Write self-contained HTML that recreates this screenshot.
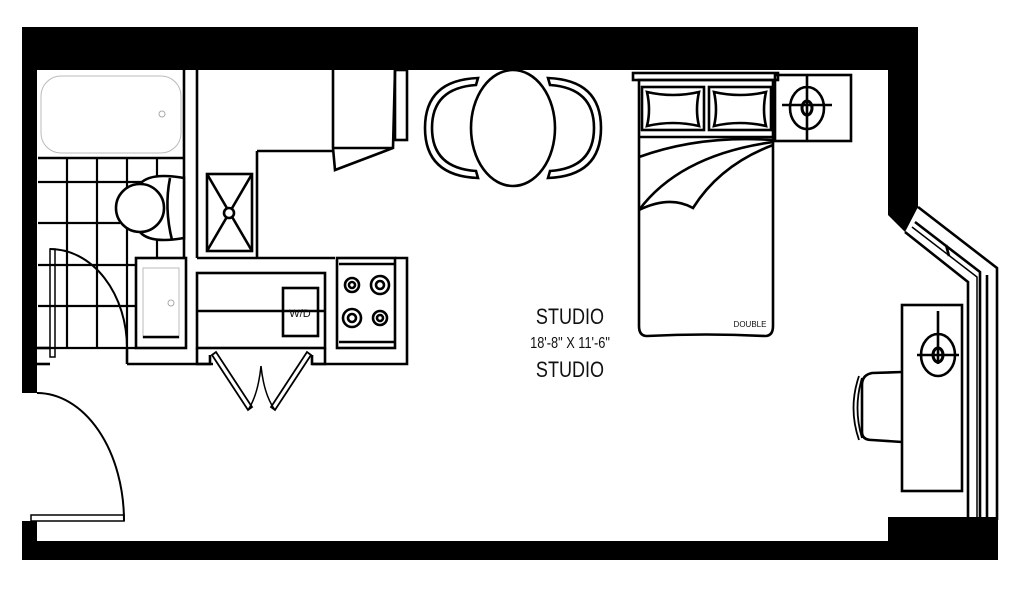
<!DOCTYPE html>
<html><head><meta charset="utf-8"><style>
html,body{margin:0;padding:0;background:#fff;width:1024px;height:593px;overflow:hidden}
svg{display:block}
text{font-family:"Liberation Sans",sans-serif;fill:#111}
</style></head><body>
<svg width="1024" height="593" viewBox="0 0 1024 593" xmlns="http://www.w3.org/2000/svg">
<g fill="#000">
<rect x="22" y="27" width="896" height="43"/>
<rect x="22" y="27" width="15" height="366"/>
<rect x="22" y="521" width="15" height="39"/>
<rect x="22" y="541" width="976" height="19"/>
<rect x="888" y="517" width="110" height="43"/>
<polygon points="888,27 918,27 918,207 905,232 888,215"/>
</g>
<g fill="none" stroke="#000" stroke-width="2.6">
<!-- window -->
<polyline points="918,207 997,268 997,520"/>
<polyline points="905,232 968,282 968,520"/>
<polyline points="915,222 980,272 980,520"/>
<polyline points="912,227 977,277 977,520" stroke-width="1.5"/>
<line x1="987" y1="275" x2="987" y2="520"/>
<line x1="946" y1="245" x2="949" y2="256"/>
<!-- bathtub -->
<rect x="41" y="76" width="140" height="77" rx="20" stroke="#bbb" stroke-width="1"/>
<circle cx="162" cy="114" r="3" stroke="#aaa" stroke-width="1"/>
<line x1="38" y1="158" x2="184" y2="158"/>
<line x1="184" y1="70" x2="184" y2="258"/>
<line x1="197" y1="70" x2="197" y2="258"/>
<!-- tiles -->
<g stroke-width="2.2">
<line x1="38" y1="182" x2="184" y2="182"/>
<line x1="38" y1="223" x2="120" y2="223"/>
<line x1="38" y1="265" x2="136" y2="265"/>
<line x1="38" y1="306" x2="136" y2="306"/>
<line x1="38" y1="348" x2="136" y2="348"/>
<line x1="67" y1="158" x2="67" y2="348"/>
<line x1="97" y1="158" x2="97" y2="348"/>
<line x1="127" y1="158" x2="127" y2="348"/>
<line x1="157" y1="158" x2="157" y2="178"/>
<line x1="157" y1="240" x2="157" y2="258"/>
</g>
<!-- toilet -->
<path d="M184,178 Q150,172 140,184 L140,232 Q150,244 184,238 Z" fill="#fff"/>
<path d="M170,178 Q164,208 172,240"/>
<ellipse cx="140" cy="208" rx="24" ry="24" fill="#fff"/>
<!-- vanity -->
<rect x="136" y="258" width="50" height="90"/>
<rect x="143" y="268" width="36" height="70" stroke="#bbb" stroke-width="1"/>
<line x1="143" y1="337" x2="179" y2="337"/>
<circle cx="171" cy="303" r="3" stroke="#aaa" stroke-width="1"/>
<!-- bath door -->
<path d="M50,249 A77,99 0 0 1 127,348" stroke-width="2"/>
<rect x="50" y="249" width="5" height="108" stroke-width="1.5"/>
<line x1="37" y1="348" x2="50" y2="348"/>
<line x1="37" y1="364" x2="50" y2="364"/>
<line x1="127" y1="348" x2="127" y2="364"/>
<line x1="127" y1="364" x2="213" y2="364"/>
<!-- kitchen walls -->
<line x1="197" y1="258" x2="335" y2="258"/>
<line x1="257" y1="151" x2="257" y2="258"/>
<line x1="257" y1="151" x2="333" y2="151"/>
<polyline points="333,70 333,148 335,170 393,148 395,70"/>
<line x1="333" y1="148" x2="393" y2="148"/>
<rect x="395" y="70" width="12" height="70"/>
<!-- sink -->
<rect x="207" y="174" width="45" height="77"/>
<line x1="207" y1="174" x2="252" y2="251"/><line x1="252" y1="174" x2="207" y2="251"/>
<circle cx="229" cy="213" r="5" fill="#fff"/>
<!-- counter & WD -->
<rect x="197" y="273" width="128" height="75"/>
<line x1="197" y1="311" x2="325" y2="311"/>
<rect x="283" y="288" width="35" height="48"/>
<polyline points="197,348 197,364 210,364 210,355"/>
<polyline points="325,348 325,364 312,364 312,355"/>
<polyline points="312,364 407,364 407,258 395,258"/>
<!-- folding doors -->
<polygon points="212,355 248,410 252,407 216,352" stroke-width="1.8"/>
<polygon points="311,355 275,410 271,407 307,352" stroke-width="1.8"/>
<path d="M261,366 Q258,395 248,410 M261,366 Q264,395 275,410" stroke-width="1.5"/>
<!-- stove -->
<rect x="337" y="258" width="58" height="90"/>
<line x1="339" y1="264" x2="395" y2="264"/><line x1="339" y1="342" x2="395" y2="342"/>
<circle cx="352" cy="285" r="7"/><circle cx="352" cy="285" r="3"/>
<circle cx="380" cy="285" r="9"/><circle cx="380" cy="285" r="4"/>
<circle cx="352" cy="318" r="9"/><circle cx="352" cy="318" r="4"/>
<circle cx="380" cy="318" r="7"/><circle cx="380" cy="318" r="3"/>
<!-- entry door -->
<path d="M37,393 A87,128 0 0 1 124,521" stroke-width="2"/>
<rect x="31" y="515" width="93" height="6" stroke-width="1.5"/>
<!-- table & chairs -->
<path d="M478,78 L476,85 Q432,88 432,128 Q432,168 476,171 L478,178 Q425,176 425,128 Q425,80 478,78 Z"/>
<path d="M548,78 L550,85 Q594,88 594,128 Q594,168 550,171 L548,178 Q601,176 601,128 Q601,80 548,78 Z"/>
<ellipse cx="513" cy="128" rx="42" ry="58" fill="#fff"/>
<!-- bed -->
<rect x="633" y="73" width="145" height="7"/>
<path d="M639,80 L773,80 L773,326 Q773,336 765,336 Q706,333 647,336 Q639,336 639,326 Z"/>
<rect x="642" y="87" width="62" height="43"/>
<path d="M647,92 Q673,98 699,92 Q695,110 699,126 Q673,120 647,126 Q651,110 647,92 Z"/>
<rect x="709" y="87" width="62" height="43"/>
<path d="M714,92 Q740,98 766,92 Q762,110 766,126 Q740,120 714,126 Q718,110 714,92 Z"/>
<line x1="639" y1="137" x2="773" y2="137"/>
<path d="M639,157 Q700,135 773,140"/>
<path d="M639,210 Q680,155 773,142"/>
<path d="M639,210 Q670,195 693,208 Q720,165 773,145"/>
<!-- nightstand -->
<rect x="775" y="75" width="76" height="66"/>
<ellipse cx="807" cy="108" rx="17" ry="21"/>
<ellipse cx="807" cy="108" rx="5" ry="7" stroke-width="3"/>
<line x1="782" y1="105" x2="832" y2="105"/><line x1="807" y1="75" x2="807" y2="140"/>
<!-- desk -->
<rect x="902" y="305" width="60" height="186"/>
<ellipse cx="938" cy="355" rx="17" ry="21"/>
<ellipse cx="938" cy="355" rx="5" ry="7" stroke-width="3"/>
<line x1="917" y1="355" x2="959" y2="355"/><line x1="938" y1="311" x2="938" y2="364"/>
<path d="M902,372 L872,373 Q862,375 862,385 L862,432 Q862,440 872,440 L902,442"/>
<path d="M859,376 Q848,408 859,440 M862,378 Q853,408 862,438" stroke-width="1.8"/>
</g>
<text x="570" y="324" font-size="22" text-anchor="middle" transform="translate(570,0) scale(0.82,1) translate(-570,0)">STUDIO</text>
<text x="570" y="348" font-size="16" text-anchor="middle" transform="translate(570,0) scale(0.8,1) translate(-570,0)">18'-8" X 11'-6"</text>
<text x="570" y="377" font-size="22" text-anchor="middle" transform="translate(570,0) scale(0.82,1) translate(-570,0)">STUDIO</text>
<text x="750" y="327" font-size="8" text-anchor="middle">DOUBLE</text>
<text x="300" y="317" font-size="11" text-anchor="middle">W/D</text>
</svg>
</body></html>
